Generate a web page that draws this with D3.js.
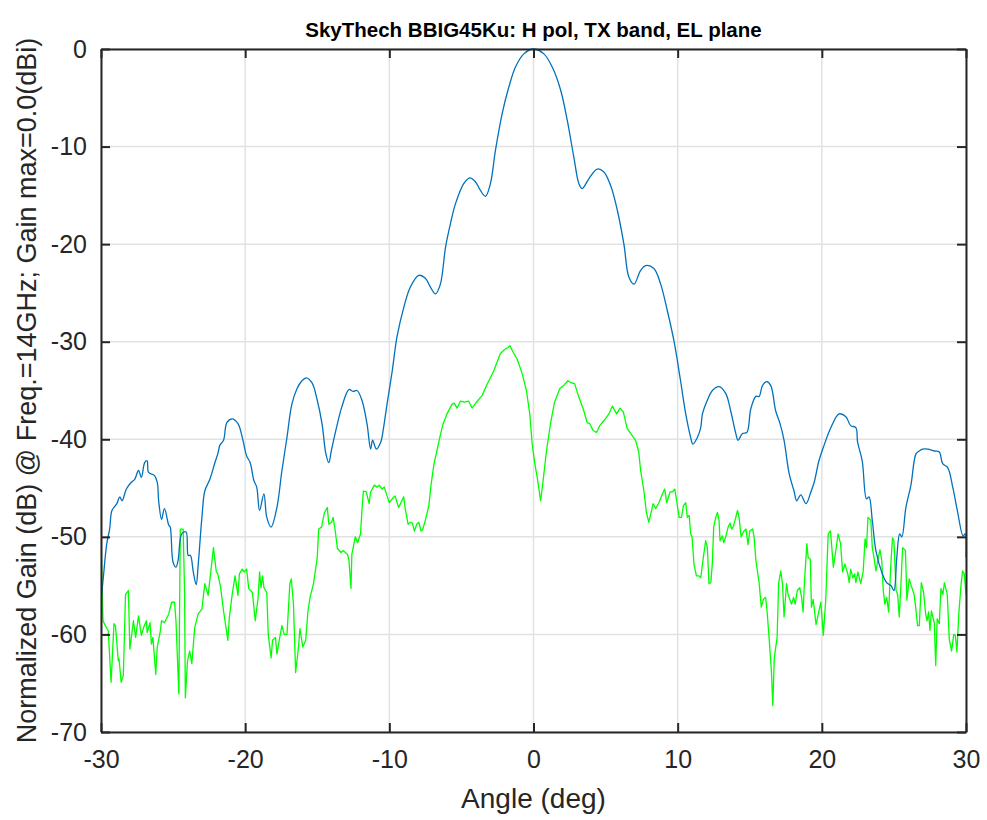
<!DOCTYPE html>
<html>
<head>
<meta charset="utf-8">
<script src="https://cdn.jsdelivr.net/npm/d3@7"></script>
<style>
  body { margin: 0; background: #fff; }
  svg { display: block; font-family: "Liberation Sans", Arial, Helvetica, sans-serif; }
</style>
</head>
<body>
<svg width="987" height="820"></svg>
<script>
// H pol co-pol (blue) pattern, angle in deg / gain in dB
const blueAngle = [-30.0,-29.86,-29.6,-29.4,-29.24,-28.9,-28.7,-28.54,-28.24,-27.9,-27.66,-27.4,-27.2,-26.97,-26.8,-26.7,-26.3,-26.1,-26.0,-25.8,-25.6,-25.3,-25.2,-25.0,-24.8,-24.65,-24.4,-24.1,-23.95,-23.8,-23.6,-23.4,-23.26,-23.0,-22.8,-22.45,-22.1,-21.9,-21.75,-21.5,-21.27,-20.9,-20.5,-20.2,-19.9,-19.65,-19.4,-19.2,-19.0,-18.7,-18.5,-18.2,-17.8,-17.45,-17.1,-16.76,-16.4,-16.06,-15.76,-15.37,-15.0,-14.67,-14.4,-14.2,-14.0,-13.6,-13.3,-12.8,-12.5,-12.24,-11.9,-11.55,-11.3,-11.16,-10.9,-10.6,-10.4,-10.16,-9.8,-9.47,-9.0,-8.54,-7.96,-7.5,-7.15,-6.8,-6.46,-6.1,-5.76,-5.42,-4.84,-4.42,-4.03,-3.68,-3.33,-2.99,-2.64,-2.17,-1.71,-1.25,-0.67,0.0,0.72,1.3,1.88,2.34,2.8,3.15,3.38,3.84,4.42,4.88,5.35,5.81,6.27,6.62,6.97,7.43,7.78,8.35,8.82,9.28,9.74,10.2,10.56,10.9,11.06,11.37,11.6,11.72,12.06,12.41,12.87,13.33,13.68,14.03,14.19,14.49,14.8,15.07,15.42,15.65,15.88,16.18,16.46,16.8,17.1,17.38,17.73,18.07,18.26,18.54,18.9,19.24,19.47,19.8,20.16,20.6,21.2,21.67,22.0,22.36,22.48,22.8,23.1,23.27,23.5,23.75,24.2,24.5,24.8,25.0,25.2,25.4,25.55,25.83,26.18,26.53,26.76,27.0,27.34,27.8,28.15,28.38,28.73,29.08,29.4,29.8,29.94,30.0];
const blueGain = [-56.6,-54.5,-50.7,-49.2,-47.3,-46.6,-45.9,-46.3,-45.1,-44.4,-44.1,-43.2,-43.9,-42.4,-42.2,-43.4,-43.7,-44.4,-46.3,-48.2,-47.1,-48.8,-49.0,-52.6,-53.1,-52.4,-49.7,-49.5,-51.9,-51.9,-53.6,-54.9,-52.9,-48.0,-45.3,-44.1,-42.4,-41.5,-40.6,-40.1,-38.3,-37.9,-38.4,-39.8,-41.7,-42.4,-44.2,-44.9,-47.3,-45.6,-48.0,-49.0,-47.0,-43.2,-39.8,-36.4,-34.8,-34.0,-33.7,-34.2,-36.0,-38.4,-41.5,-42.4,-41.0,-38.4,-36.7,-34.9,-35.1,-35.0,-36.0,-38.4,-41.0,-40.1,-41.0,-40.3,-38.8,-36.4,-33.0,-29.5,-26.5,-24.4,-23.2,-23.5,-24.4,-25.1,-24.1,-20.3,-17.9,-15.9,-13.8,-13.2,-13.6,-14.5,-15.1,-13.8,-10.4,-6.6,-3.9,-1.85,-0.5,0.0,-0.5,-1.85,-4.2,-7.3,-11.1,-13.8,-14.3,-13.3,-12.3,-12.6,-14.0,-16.5,-20.0,-23.4,-24.1,-22.7,-22.2,-22.5,-24.1,-26.8,-29.9,-34.0,-37.4,-39.8,-40.5,-39.8,-38.8,-37.4,-36.0,-35.0,-34.6,-35.3,-37.1,-39.4,-40.1,-39.4,-39.3,-36.9,-35.6,-35.6,-34.5,-34.1,-34.5,-37.1,-38.4,-40.1,-43.5,-45.3,-46.3,-45.7,-46.6,-45.4,-44.4,-42.2,-40.6,-38.9,-37.4,-37.7,-38.6,-38.8,-40.3,-42.2,-46.1,-45.9,-48.3,-51.4,-53.8,-54.7,-55.0,-55.5,-52.1,-49.7,-50.0,-47.0,-44.7,-41.5,-41.2,-41.0,-41.0,-41.2,-41.3,-42.5,-42.9,-44.9,-47.3,-49.9,-49.7,-52.1];

// cross-pol (green) pattern
const greenAngle = [-30.0,-29.86,-29.7,-29.5,-29.3,-29.1,-29.0,-28.8,-28.75,-28.6,-28.45,-28.3,-28.1,-28.0,-27.75,-27.6,-27.4,-27.2,-27.0,-26.85,-26.8,-26.6,-26.5,-26.4,-26.2,-26.1,-25.9,-25.8,-25.6,-25.3,-25.1,-24.9,-24.8,-24.6,-24.5,-24.3,-24.2,-24.15,-24.0,-23.85,-23.7,-23.5,-23.26,-23.0,-22.8,-22.57,-22.4,-22.2,-22.0,-21.9,-21.7,-21.5,-21.2,-21.1,-20.9,-20.7,-20.5,-20.4,-20.2,-20.07,-19.9,-19.75,-19.5,-19.3,-19.1,-19.0,-18.9,-18.8,-18.7,-18.5,-18.4,-18.2,-18.1,-17.9,-17.8,-17.6,-17.45,-17.3,-17.1,-16.9,-16.8,-16.65,-16.5,-16.3,-16.2,-16.0,-15.8,-15.65,-15.5,-15.26,-15.0,-14.9,-14.7,-14.5,-14.3,-14.2,-14.0,-13.9,-13.75,-13.6,-13.35,-13.2,-12.9,-12.8,-12.66,-12.6,-12.36,-12.2,-12.0,-11.9,-11.8,-11.6,-11.4,-11.3,-11.04,-10.85,-10.7,-10.5,-10.35,-10.16,-10.0,-9.8,-9.6,-9.5,-9.35,-9.2,-9.0,-8.9,-8.7,-8.54,-8.4,-8.26,-8.1,-7.96,-7.8,-7.7,-7.5,-7.26,-7.1,-6.9,-6.7,-6.5,-6.27,-6.0,-5.65,-5.5,-5.3,-5.07,-4.8,-4.5,-4.26,-3.96,-3.56,-3.2,-2.76,-2.3,-2.0,-1.78,-1.64,-1.4,-1.13,-0.78,-0.49,-0.26,-0.09,0.09,0.26,0.49,0.67,0.9,1.18,1.46,1.83,2.15,2.38,2.6,2.85,3.15,3.45,3.73,3.9,4.14,4.37,4.6,4.93,5.23,5.47,5.76,6.0,6.23,6.5,6.74,7.08,7.3,7.43,7.66,7.83,8.0,8.3,8.47,8.7,8.94,9.1,9.24,9.47,9.63,9.8,9.93,10.1,10.26,10.4,10.56,10.67,10.8,10.9,11.0,11.13,11.3,11.47,11.6,11.78,11.94,12.06,12.17,12.3,12.4,12.5,12.64,12.76,12.87,12.94,13.1,13.2,13.33,13.5,13.63,13.75,13.87,14.03,14.15,14.26,14.4,14.6,14.74,14.88,15.0,15.2,15.3,15.42,15.53,15.65,15.8,15.95,16.1,16.2,16.34,16.5,16.6,16.7,16.9,17.0,17.15,17.27,17.38,17.55,17.66,17.8,17.9,18.04,18.15,18.3,18.47,18.6,18.7,18.8,18.96,19.05,19.2,19.28,19.4,19.6,19.8,19.93,20.1,20.27,20.44,20.6,20.8,20.97,21.13,21.3,21.44,21.6,21.8,21.9,22.0,22.15,22.27,22.36,22.5,22.7,22.87,23.0,23.1,23.2,23.4,23.5,23.64,23.75,23.87,24.03,24.15,24.26,24.37,24.5,24.63,24.8,24.9,25.0,25.15,25.26,25.37,25.5,25.6,25.8,25.9,26.06,26.2,26.4,26.5,26.64,26.76,26.9,27.06,27.2,27.3,27.4,27.5,27.6,27.8,27.9,28.0,28.15,28.26,28.4,28.5,28.7,28.84,29.0,29.15,29.26,29.37,29.5,29.65,29.76,29.88,30.0];
const greenGain = [-50.4,-58.6,-59.1,-59.6,-64.9,-58.9,-59.1,-62.7,-62.5,-64.9,-64.2,-55.9,-55.5,-61.5,-58.6,-60.3,-58.1,-60.1,-59.1,-58.6,-59.8,-58.8,-61.0,-60.3,-64.1,-61.3,-59.8,-58.6,-58.8,-57.9,-56.7,-56.7,-58.6,-66.1,-49.2,-49.2,-55.9,-66.5,-62.7,-61.7,-63.0,-59.3,-57.9,-57.4,-54.8,-56.0,-53.8,-51.1,-53.6,-53.8,-55.2,-57.6,-60.6,-58.3,-55.9,-54.0,-56.0,-53.8,-53.3,-53.6,-53.3,-55.3,-55.7,-58.6,-56.2,-53.6,-55.2,-54.0,-55.2,-55.7,-60.0,-62.4,-60.6,-60.3,-62.0,-60.3,-59.1,-60.0,-60.0,-54.8,-54.3,-56.9,-63.9,-61.3,-59.4,-61.3,-60.6,-57.7,-56.2,-54.8,-52.1,-49.2,-49.0,-47.5,-47.0,-48.7,-48.5,-48.0,-49.4,-51.2,-51.6,-51.4,-51.8,-52.4,-55.3,-51.8,-50.0,-50.6,-49.7,-47.3,-45.3,-45.4,-46.6,-45.4,-44.7,-44.9,-44.7,-45.1,-44.9,-45.8,-46.5,-46.1,-45.8,-46.3,-47.0,-46.5,-45.9,-47.1,-48.7,-48.5,-48.6,-49.4,-48.7,-48.5,-49.4,-49.3,-48.3,-46.8,-44.6,-42.5,-41.2,-39.8,-38.4,-37.4,-36.4,-36.3,-36.8,-36.1,-36.2,-36.1,-36.8,-36.2,-35.5,-34.3,-33.0,-31.2,-30.8,-30.6,-30.4,-31.1,-31.8,-33.3,-35.0,-37.4,-40.5,-42.5,-43.9,-46.3,-44.2,-41.2,-38.4,-36.2,-34.8,-34.4,-34.0,-34.2,-34.3,-35.7,-36.9,-38.3,-38.4,-39.1,-39.3,-38.6,-38.0,-37.4,-36.6,-37.4,-36.8,-37.2,-38.9,-39.4,-40.1,-41.3,-43.2,-45.3,-47.5,-48.5,-46.6,-47.1,-46.5,-45.6,-45.1,-46.5,-45.4,-45.4,-45.1,-46.3,-48.0,-48.0,-46.8,-46.5,-48.0,-47.8,-49.7,-50.0,-52.8,-54.0,-54.0,-54.2,-52.1,-50.4,-51.1,-54.8,-54.7,-52.8,-49.0,-48.0,-47.5,-48.3,-50.4,-49.9,-50.6,-50.0,-49.0,-48.6,-49.2,-48.9,-48.0,-47.3,-48.0,-50.0,-49.4,-49.2,-50.8,-49.4,-49.2,-50.0,-52.3,-53.5,-54.7,-57.2,-56.4,-56.2,-57.6,-60.3,-63.7,-67.3,-62.4,-60.3,-54.8,-53.5,-54.8,-58.2,-54.8,-55.9,-56.5,-56.9,-56.2,-56.9,-55.5,-55.2,-56.2,-57.7,-54.5,-50.7,-52.1,-52.3,-57.2,-56.4,-59.0,-57.6,-56.7,-60.1,-56.5,-49.7,-49.4,-53.1,-51.4,-49.7,-50.7,-53.6,-52.8,-53.8,-54.7,-53.3,-54.2,-53.8,-54.7,-53.6,-54.8,-53.5,-50.2,-51.1,-48.0,-48.3,-51.1,-52.3,-53.5,-52.5,-51.3,-52.3,-55.5,-56.9,-56.2,-57.7,-52.5,-50.1,-50.4,-55.5,-55.9,-58.2,-54.5,-51.1,-51.4,-56.5,-54.3,-55.0,-55.9,-57.1,-59.1,-59.1,-54.7,-55.7,-57.9,-58.6,-57.7,-59.6,-57.6,-58.8,-63.2,-58.4,-58.9,-55.3,-55.9,-54.7,-55.9,-60.5,-61.7,-60.0,-60.1,-61.8,-57.9,-55.0,-53.5,-53.8,-55.9];

const xTicks = [-30, -20, -10, 0, 10, 20, 30];
const yTicks = [0, -10, -20, -30, -40, -50, -60, -70];

const titleText = "SkyThech BBIG45Ku: H pol, TX band, EL plane";
const xLabelText = "Angle (deg)";
const yLabelText = "Normalized Gain (dB) @ Freq.=14GHz; Gain max=0.0(dBi)";

function drawChart() {
  const blue = "#0072bd", green = "#00ff00", axisColor = "#262626", gridColor = "#e2e2e2";
  const left = 101, right = 966, top = 49, bottom = 732;
  const svg = d3.select("svg");

  let xScale = d3.scaleLinear().domain([-30, 30]).range([left, right]);
  let yScale = d3.scaleLinear().domain([-70, 0]).range([bottom, top]);

  // gridlines
  svg.append("g").selectAll("line.xgrid")
    .data(xTicks)
    .join("line")
    .attr("class", "xgrid")
    .attr("x1", d => xScale(d)).attr("x2", d => xScale(d))
    .attr("y1", top).attr("y2", bottom)
    .attr("stroke", gridColor).attr("stroke-width", 1.5);
  svg.append("g").selectAll("line.ygrid")
    .data(yTicks)
    .join("line")
    .attr("class", "ygrid")
    .attr("x1", left).attr("x2", right)
    .attr("y1", d => yScale(d)).attr("y2", d => yScale(d))
    .attr("stroke", gridColor).attr("stroke-width", 1.5);

  // data lines, clipped to the plot box
  svg.append("clipPath").attr("id", "plotClip")
    .append("rect")
    .attr("x", left).attr("y", top - 1)
    .attr("width", right - left).attr("height", bottom - top + 1);

  const greenData = greenAngle.map((a, i) => [a, greenGain[i]]);
  const blueData = blueAngle.map((a, i) => [a, blueGain[i]]);

  let greenLine = d3.line()
    .x(d => xScale(d[0]))
    .y(d => yScale(d[1]));
  let blueLine = d3.line()
    .x(d => xScale(d[0]))
    .y(d => yScale(d[1]))
    .curve(d3.curveCatmullRom.alpha(0.5));

  svg.append("path")
    .attr("d", greenLine(greenData))
    .attr("clip-path", "url(#plotClip)")
    .attr("fill", "none")
    .attr("stroke", green)
    .attr("stroke-width", 1.3)
    .attr("stroke-linejoin", "round");

  svg.append("path")
    .attr("d", blueLine(blueData))
    .attr("clip-path", "url(#plotClip)")
    .attr("fill", "none")
    .attr("stroke", blue)
    .attr("stroke-width", 1.3)
    .attr("stroke-linejoin", "round");

  // axes: ticks point inwards on all four sides, labels with plain hyphen
  const tickLen = 9;
  const plain = d => String(d);
  let xAxisBottom = d3.axisBottom(xScale).tickValues(xTicks).tickFormat(plain).tickSizeInner(-tickLen).tickSizeOuter(0).tickPadding(18);
  let xAxisTop = d3.axisTop(xScale).tickValues(xTicks).tickSizeInner(-tickLen).tickSizeOuter(0).tickFormat("");
  let yAxisLeft = d3.axisLeft(yScale).tickValues(yTicks).tickFormat(plain).tickSizeInner(-tickLen).tickSizeOuter(0).tickPadding(14);
  let yAxisRight = d3.axisRight(yScale).tickValues(yTicks).tickSizeInner(-tickLen).tickSizeOuter(0).tickFormat("");

  svg.append("g").attr("id", "xAxisG").attr("transform", `translate(0, ${bottom})`).call(xAxisBottom);
  svg.append("g").attr("id", "xAxisTopG").attr("transform", `translate(0, ${top})`).call(xAxisTop);
  svg.append("g").attr("id", "yAxisG").attr("transform", `translate(${left}, 0)`).call(yAxisLeft);
  svg.append("g").attr("id", "yAxisRightG").attr("transform", `translate(${right}, 0)`).call(yAxisRight);

  svg.selectAll("#xAxisG, #xAxisTopG, #yAxisG, #yAxisRightG")
    .selectAll("path.domain")
    .attr("stroke", axisColor).attr("stroke-width", 2);
  svg.selectAll("g.tick line").attr("stroke", axisColor).attr("stroke-width", 2);
  svg.selectAll("g.tick text")
    .attr("fill", axisColor)
    .style("font-size", "25px")
    .style("font-family", "Liberation Sans, Arial, sans-serif");

  // titles
  svg.append("text")
    .attr("x", (left + right) / 2).attr("y", 37)
    .attr("text-anchor", "middle")
    .style("font-size", "20.5px").style("font-weight", "bold")
    .attr("fill", "#000")
    .text(titleText);

  svg.append("text")
    .attr("x", (left + right) / 2).attr("y", 808)
    .attr("text-anchor", "middle")
    .style("font-size", "28px")
    .attr("fill", axisColor)
    .text(xLabelText);

  svg.append("text")
    .attr("transform", `translate(36, ${(top + bottom) / 2}) rotate(-90)`)
    .attr("text-anchor", "middle")
    .style("font-size", "27px")
    .attr("fill", axisColor)
    .text(yLabelText);
}

drawChart();
</script>
</body>
</html>
